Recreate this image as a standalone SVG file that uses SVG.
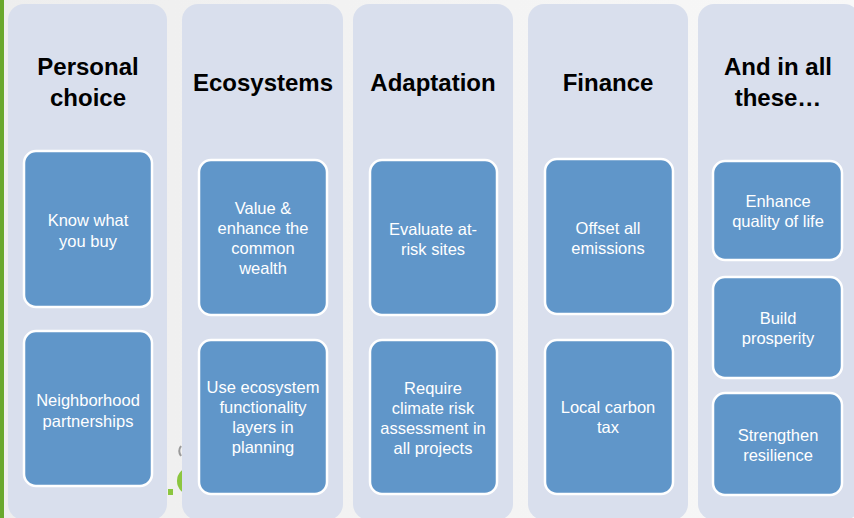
<svg xmlns="http://www.w3.org/2000/svg" width="854" height="518" viewBox="0 0 854 518">
<defs>
<linearGradient id="bg" x1="0" y1="0" x2="1" y2="0">
<stop offset="0" stop-color="#eeeeee"/>
<stop offset="1" stop-color="#f8f8f8"/>
</linearGradient>
<style>
.col{fill:#d9dfed;}
.box{fill:#6096c9;stroke:#ffffff;stroke-width:2.5;}
.title{font-family:"Liberation Sans",Arial,sans-serif;font-weight:bold;font-size:24px;fill:#000000;text-anchor:middle;}
.lbl{font-family:"Liberation Sans",Arial,sans-serif;font-size:16.5px;fill:#ffffff;text-anchor:middle;}
</style>
</defs>
<rect x="0" y="0" width="854" height="518" fill="url(#bg)"/>
<rect x="0" y="0" width="4" height="518" fill="#6aa82c"/>
<!-- partially hidden logo fragments -->
<circle cx="191" cy="481" r="14" fill="#8cc63f"/>
<rect x="168" y="489" width="5" height="6" fill="#8cc63f"/>
<path d="M181 446 Q177.5 451 181 456" fill="none" stroke="#9a9a9a" stroke-width="2"/>

<g id="col-personal">
<rect class="col" x="8" y="4" width="159" height="516" rx="16"/>
<text class="title" x="88" y="75">Personal</text>
<text class="title" x="88" y="106">choice</text>
<rect class="box" x="24" y="151" width="128" height="156" rx="12"/>
<text class="lbl" x="88" y="226">Know what</text>
<text class="lbl" x="88" y="247">you buy</text>
<rect class="box" x="24" y="331" width="128" height="155" rx="12"/>
<text class="lbl" x="88" y="406">Neighborhood</text>
<text class="lbl" x="88" y="427">partnerships</text>
</g>

<g id="col-ecosystems">
<rect class="col" x="182" y="4" width="161" height="516" rx="16"/>
<text class="title" x="263" y="91">Ecosystems</text>
<rect class="box" x="199" y="160" width="128" height="155" rx="12"/>
<text class="lbl" x="263" y="214">Value &amp;</text>
<text class="lbl" x="263" y="234">enhance the</text>
<text class="lbl" x="263" y="254">common</text>
<text class="lbl" x="263" y="274">wealth</text>
<rect class="box" x="199" y="340" width="128" height="154" rx="12"/>
<text class="lbl" x="263" y="393">Use ecosystem</text>
<text class="lbl" x="263" y="413">functionality</text>
<text class="lbl" x="263" y="433">layers in</text>
<text class="lbl" x="263" y="453">planning</text>
</g>

<g id="col-adaptation">
<rect class="col" x="353" y="4" width="160" height="516" rx="16"/>
<text class="title" x="433" y="91">Adaptation</text>
<rect class="box" x="370" y="160" width="127" height="155" rx="12"/>
<text class="lbl" x="433" y="235">Evaluate at-</text>
<text class="lbl" x="433" y="255">risk sites</text>
<rect class="box" x="370" y="340" width="127" height="154" rx="12"/>
<text class="lbl" x="433" y="394">Require</text>
<text class="lbl" x="433" y="414">climate risk</text>
<text class="lbl" x="433" y="434">assessment in</text>
<text class="lbl" x="433" y="454">all projects</text>
</g>

<g id="col-finance">
<rect class="col" x="528" y="4" width="160" height="516" rx="16"/>
<text class="title" x="608" y="91">Finance</text>
<rect class="box" x="545" y="159" width="128" height="155" rx="12"/>
<text class="lbl" x="608" y="234">Offset all</text>
<text class="lbl" x="608" y="254">emissions</text>
<rect class="box" x="545" y="340" width="128" height="154" rx="12"/>
<text class="lbl" x="608" y="413">Local carbon</text>
<text class="lbl" x="608" y="433">tax</text>
</g>

<g id="col-all">
<rect class="col" x="698" y="4" width="162" height="516" rx="16"/>
<text class="title" x="778" y="75">And in all</text>
<text class="title" x="778" y="106">these…</text>
<rect class="box" x="713" y="161" width="129" height="99" rx="12"/>
<text class="lbl" x="778" y="207">Enhance</text>
<text class="lbl" x="778" y="227">quality of life</text>
<rect class="box" x="713" y="277" width="129" height="101" rx="12"/>
<text class="lbl" x="778" y="324">Build</text>
<text class="lbl" x="778" y="344">prosperity</text>
<rect class="box" x="713" y="393" width="129" height="102" rx="12"/>
<text class="lbl" x="778" y="441">Strengthen</text>
<text class="lbl" x="778" y="461">resilience</text>
</g>

<g id="connectors"></g>
</svg>
